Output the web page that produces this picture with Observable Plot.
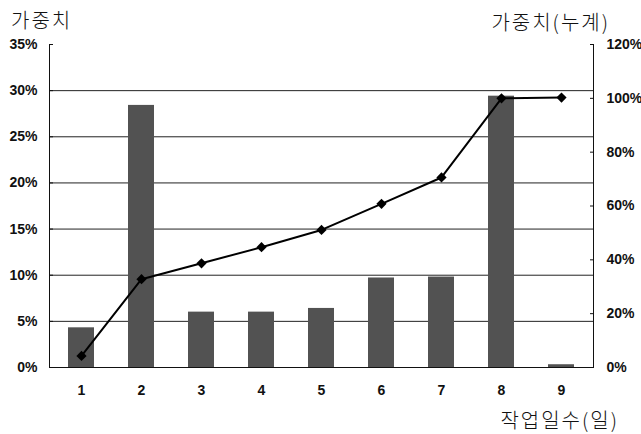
<!DOCTYPE html>
<html><head><meta charset="utf-8">
<script src="https://cdn.jsdelivr.net/npm/d3@7"></script>
<script src="https://cdn.jsdelivr.net/npm/@observablehq/plot@0.6"></script>
<style>
body{margin:0;background:#fff;}
#wrap{position:relative;width:641px;height:434px;}
.t{position:absolute;font-family:"Noto Sans CJK KR",sans-serif;font-size:20px;line-height:20px;letter-spacing:2px;color:#111;white-space:nowrap;font-weight:300;}
</style></head>
<body><div id="wrap">
<div class="t" id="tl" style="left:11px;top:10px;">가중치</div>
<div class="t" id="tr" style="right:31px;top:12px;">가중치(누계)</div>
<div class="t" id="tx" style="right:22px;top:410px;">작업일수(일)</div>
</div>
<script>
const days = [1,2,3,4,5,6,7,8,9];
const weight = [4.3, 28.4, 6.0, 6.0, 6.4, 9.7, 9.8, 29.4, 0.3];
const cumulative = [4.3, 32.8, 38.7, 44.7, 51.1, 60.8, 70.6, 100, 100.3];
const leftTicks = [0,5,10,15,20,25,30,35];
const rightTicks = [0,20,40,60,80,100,120];
const LEFT_MAX = 35, RIGHT_MAX = 120;
const toLeft = v => v * LEFT_MAX / RIGHT_MAX;

const data = days.map((d,i)=>({day:d, w:weight[i], c:cumulative[i]}));
const font = "Liberation Sans, Arial, sans-serif";

const chart = Plot.plot({
  width: 641, height: 434,
  marginLeft: 49, marginRight: 48, marginTop: 44, marginBottom: 67,
  style: {fontFamily: font, fontSize: "14px", fontWeight: "bold", color: "#111", background: "transparent"},
  x: {type: "band", domain: days, paddingInner: 0.57, paddingOuter: 0.285, label: null},
  y: {domain: [0, LEFT_MAX], label: null},
  marks: [
    Plot.gridY(leftTicks.filter(v => v > 0 && v < LEFT_MAX), {stroke: "#222", strokeOpacity: 1, strokeWidth: 1}),
    Plot.barY(data, {x: "day", y: "w", fill: "#525252"}),
    Plot.ruleY([0], {stroke: "#111", strokeWidth: 1.2}),
    Plot.frame({anchor: "left", stroke: "#111"}),
    Plot.frame({anchor: "right", stroke: "#111"}),
    Plot.axisY(leftTicks, {anchor: "left", tickSize: -4, tickPadding: 16, tickFormat: d => d + "%", label: null}),
    Plot.axisY(rightTicks.map(toLeft), {anchor: "right", tickSize: -4, tickPadding: 17, tickFormat: d => Math.round(d * RIGHT_MAX / LEFT_MAX) + "%", label: null}),
    Plot.axisX(days, {tickSize: 0, tickPadding: 18, label: null}),
    Plot.line(data, {x: "day", y: d => toLeft(d.c), stroke: "#000", strokeWidth: 2}),
    Plot.dot(data, {x: "day", y: d => toLeft(d.c), symbol: "diamond2", r: 4.6, fill: "#000", stroke: "none"})
  ]
});
chart.style.position = "absolute";
chart.style.left = "0";
chart.style.top = "0";
document.getElementById("wrap").prepend(chart);
</script>
</body></html>
